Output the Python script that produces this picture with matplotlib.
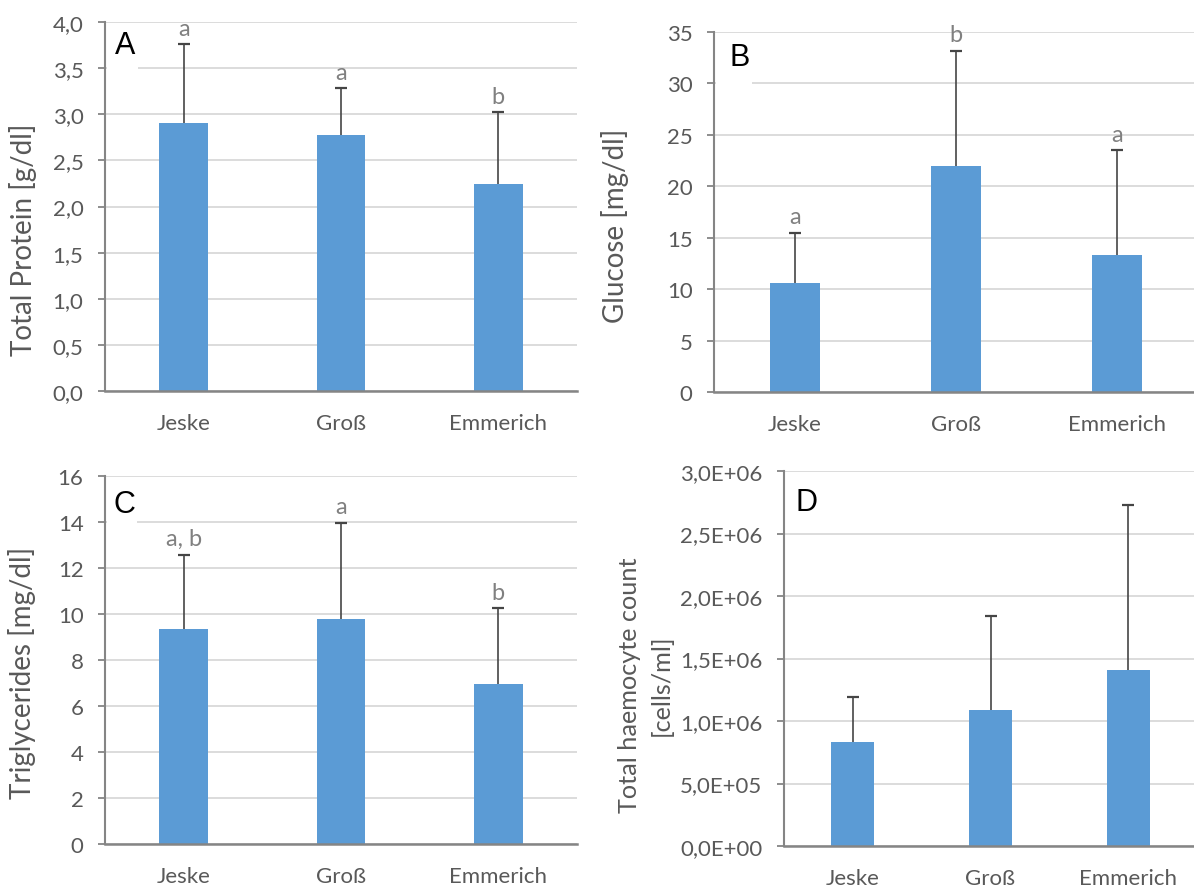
import math
import matplotlib
matplotlib.use("Agg")
import matplotlib.pyplot as plt
from matplotlib.ticker import FuncFormatter, MultipleLocator
from matplotlib.patches import Rectangle

plt.rcParams['font.family'] = ['Lato', 'DejaVu Sans']

categories = ["Jeske", "Groß", "Emmerich"]

protein = [2.90, 2.78, 2.24]
protein_err = [0.86, 0.50, 0.78]
protein_letters = ["a", "a", "b"]

glucose = [10.6, 22.0, 13.3]
glucose_err = [4.9, 11.2, 10.2]
glucose_letters = ["a", "b", "a"]

trig = [9.33, 9.80, 6.97]
trig_err = [3.25, 4.17, 3.28]
trig_letters = ["a, b", "a", "b"]

thc = [0.83e6, 1.09e6, 1.41e6]
thc_err = [0.36e6, 0.75e6, 1.32e6]

W, H = 1194, 887
fig = plt.figure(figsize=(W / 100, H / 100), dpi=100)

BAR = "#5b9bd5"
GRID = "#d9d9d9"
SPINE = "#858585"
TXT = "#595959"
ERR = "#454545"
LET = "#808080"
FS_TICK = 16
FS_LET = 17


def panel(px, vals, errs, letters, ylim, step, fmt, ylabel, ylab_pos, ylab_fs,
          tag, tag_box, tag_pos, ylab_ls=1.2):
    l, r, t, b = px
    ax = fig.add_axes([l / W, (H - b) / H, (r - l) / W, (b - t) / H])
    x = list(range(len(categories)))
    ax.bar(x, vals, width=0.31, color=BAR, zorder=2)
    _, caps, _ = ax.errorbar(x, vals, yerr=[[0] * len(vals), errs], fmt="none",
                             ecolor=ERR, elinewidth=1.2, capsize=4.3,
                             capthick=1.6, zorder=3)
    # keep only the upper caps
    for c in caps:
        yd = list(c.get_ydata())
        if all(abs(a - v) < 1e-9 for a, v in zip(yd, vals)):
            c.set_visible(False)
    ax.set_xlim(-0.5, 2.5)
    ax.set_ylim(*ylim)
    ax.yaxis.set_major_locator(MultipleLocator(step))
    ax.yaxis.set_major_formatter(FuncFormatter(fmt))
    ax.grid(axis="y", color=GRID, linewidth=1.3, zorder=0)
    ax.set_axisbelow(True)
    for s in ["top", "right"]:
        ax.spines[s].set_visible(False)
    ax.spines["left"].set_color(SPINE)
    ax.spines["left"].set_linewidth(1.5)
    ax.spines["bottom"].set_color(SPINE)
    ax.spines["bottom"].set_linewidth(1.8)
    ax.set_xticks(x)
    ax.set_xticklabels(categories)
    ax.tick_params(axis="x", length=0, pad=16, labelsize=FS_TICK, labelcolor=TXT)
    ax.tick_params(axis="y", length=5, width=1.3, color=SPINE, pad=10.5,
                   labelsize=FS_TICK, labelcolor=TXT)
    fig.text(ylab_pos[0] / W, 1 - ylab_pos[1] / H, ylabel, rotation=90,
             ha="center", va="center", fontsize=ylab_fs, color=TXT,
             linespacing=ylab_ls)
    if letters:
        for xi, v, e, lt in zip(x, vals, errs, letters):
            ax.annotate(lt, (xi, v + e), xytext=(0, 4), textcoords="offset points",
                        ha="center", va="bottom", fontsize=FS_LET, color=LET,
                        zorder=4)
    # white box behind the panel letter
    bl, br, bt, bb = tag_box
    ax.add_patch(Rectangle(((bl - l) / (r - l), (b - bb) / (b - t)),
                           (br - bl) / (r - l), (bb - bt) / (b - t),
                           transform=ax.transAxes, facecolor="white",
                           edgecolor="none", zorder=1.5, clip_on=False))
    ax.text((tag_pos[0] - l) / (r - l), (b - tag_pos[1]) / (b - t), tag,
            transform=ax.transAxes, fontsize=22, family="Liberation Sans",
            color="black", ha="center", va="center", zorder=5)
    return ax


def comma1(v, p):
    return f"{v:.1f}".replace(".", ",")


def integer(v, p):
    return f"{v:.0f}"


def sci(v, p):
    if v == 0:
        return "0,0E+00"
    e = int(math.floor(math.log10(abs(v)) + 1e-9))
    m = v / 10 ** e
    return f"{m:.1f}".replace(".", ",") + f"E+{e:02d}"


panel((105, 577, 23, 392), protein, protein_err, protein_letters, (0, 4.0), 0.5,
      comma1, "Total Protein [g/dl]", (23, 240), 20,
      "A", (107, 138, 25, 71), (125, 46))

panel((714, 1198, 33, 393), glucose, glucose_err, glucose_letters, (0, 35), 5,
      integer, "Glucose [mg/dl]", (615, 226), 20,
      "B", (716, 752, 35, 87), (740, 58))

panel((105, 577, 477, 845), trig, trig_err, trig_letters, (0, 16), 2,
      integer, "Triglycerides [mg/dl]", (22, 673), 20,
      "C", (107, 137, 479, 530), (124, 505))

panel((784, 1197, 472, 847), thc, thc_err, None, (0, 3.0e6), 0.5e6,
      sci, "Total haemocyte count\n[cells/ml]", (645, 685), 18.2,
      "D", (786, 825, 474, 528), (807, 503), ylab_ls=1.45)

fig.savefig("out.png", dpi=100)
